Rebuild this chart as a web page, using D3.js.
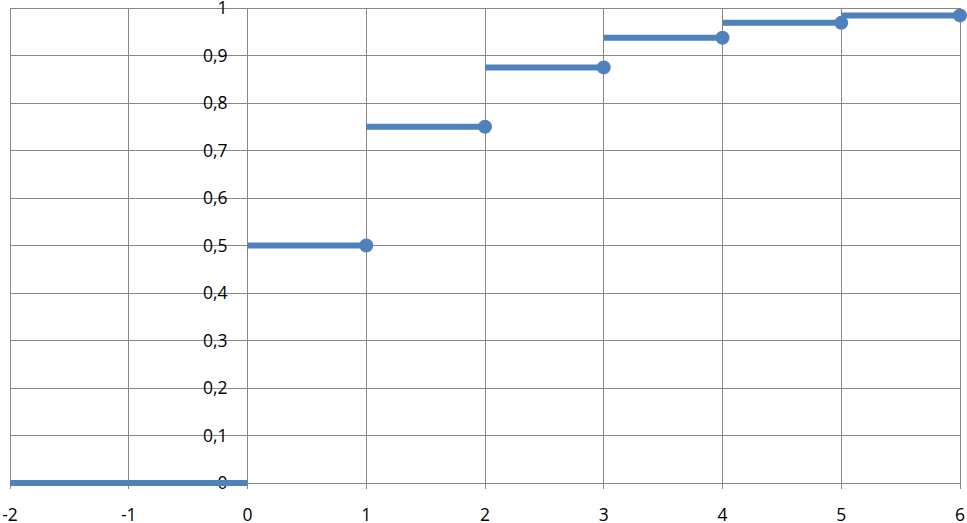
<!DOCTYPE html>
<html><head><meta charset="utf-8">
<script src="https://cdn.jsdelivr.net/npm/d3@7"></script>
<style>body{margin:0;background:#fff;overflow:hidden}svg{display:block}text{font-family:"Open Sans","Noto Sans",sans-serif;font-size:17.5px;fill:#000}</style>
</head><body><svg id="c" width="967" height="523"></svg>
<script>
const segStart = [-2, 0, 1, 2, 3, 4, 5];
const segEnd   = [0, 1, 2, 3, 4, 5, 6];
const values   = [0, 0.5, 0.75, 0.875, 0.9375, 0.96875, 0.984375];
const dotX     = [1, 2, 3, 4, 5, 6];
const dotY     = [0.5, 0.75, 0.875, 0.9375, 0.96875, 0.984375];
const xTicks   = [-2, -1, 0, 1, 2, 3, 4, 5, 6];
const yTicks   = [0, 0.1, 0.2, 0.3, 0.4, 0.5, 0.6, 0.7, 0.8, 0.9, 1];

const svg = d3.select("#c");
const x = d3.scaleLinear().domain([-2, 6]).range([10, 960]);
const y = d3.scaleLinear().domain([0, 1]).range([483, 8]);
const grid = "#868686";
const fmt = v => String(v).replace(".", ",");

svg.append("g").selectAll("line").data(yTicks).join("line")
  .attr("x1", x(-2)).attr("x2", x(6))
  .attr("y1", d => y(d)).attr("y2", d => y(d))
  .attr("stroke", grid).attr("stroke-width", 1).attr("shape-rendering", "crispEdges");
svg.append("g").selectAll("line").data(xTicks).join("line")
  .attr("x1", d => x(d)).attr("x2", d => x(d))
  .attr("y1", y(1)).attr("y2", y(0) + 6)
  .attr("stroke", grid).attr("stroke-width", 1).attr("shape-rendering", "crispEdges");

svg.append("g").selectAll("text").data(xTicks).join("text")
  .attr("x", d => x(d)).attr("y", 521)
  .attr("text-anchor", "middle").text(d => fmt(d));
svg.append("g").selectAll("text").data(yTicks).join("text")
  .attr("x", x(0) - 20).attr("y", d => y(d)).attr("dy", "0.35em")
  .attr("text-anchor", "end").text(d => fmt(d));

const blue = "#4F81BD";
svg.append("g").selectAll("line").data(values).join("line")
  .attr("x1", (d, i) => x(segStart[i])).attr("x2", (d, i) => x(segEnd[i]))
  .attr("y1", d => y(d)).attr("y2", d => y(d))
  .attr("stroke", blue).attr("stroke-width", 6).attr("stroke-linecap", "butt");
svg.append("g").selectAll("circle").data(dotY).join("circle")
  .attr("cx", (d, i) => x(dotX[i])).attr("cy", d => y(d)).attr("r", 7)
  .attr("fill", blue);
</script></body></html>
